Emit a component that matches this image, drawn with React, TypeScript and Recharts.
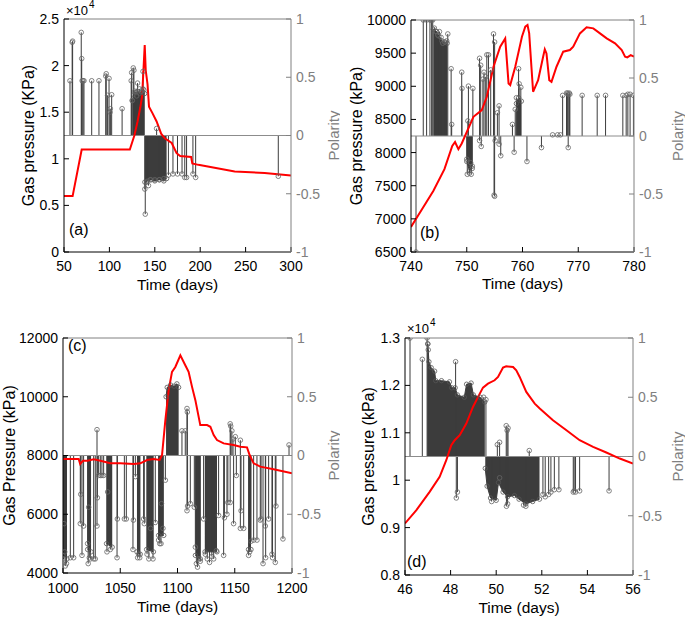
import React from 'react'
import { ComposedChart, Line, Bar, Area, Scatter, XAxis, YAxis, ReferenceLine } from 'recharts'

type Pair = [number, number]
type Env = [number, number | null]

const FONT = '"Liberation Sans", Arial, Helvetica, sans-serif'
const GREY = '#808080'
const STEM = '#3c3c3c'
const POLARITY_TICKS = [-1, -0.5, 0, 0.5, 1]

// ---- panel (a) ----
const timeTicksA = [50, 100, 150, 200, 250, 300]
const pressureTicksA = [0, 5000, 10000, 15000, 20000, 25000]
const pressureA: Pair[] = [
  [50, 6000], [59.5, 6000], [69.5, 11000], [122.5, 11000], [127.5, 12500], [131, 14000],
  [134, 15500], [136, 16700], [137.5, 19500], [138.9, 22200], [140, 19500], [142, 18000],
  [143.6, 15600], [147.4, 14900], [152, 14000], [157, 12700], [161, 12200], [168.6, 11700],
  [174, 10600], [178, 10300], [190, 10200], [191.3, 9500], [198, 9350], [238, 8650],
  [271, 8470], [300, 8220],
]
const stemsA: Pair[] = [
  [56.6, 0.47], [59, 0.8], [59.5, 0.81], [69, 0.885], [69.5, 0.66], [70, 0.47], [71, 0.47],
  [72, 0.47], [80.5, 0.47], [88.5, 0.47], [96, 0.51], [96.5, 0.53], [98, 0.345], [99.6, 0.49],
  [100.7, 0.2], [101, 0.23], [102.5, 0.35], [114, 0.23], [124, 0.47], [124.5, 0.54], [125, 0.3],
  [126.3, 0.58], [127, 0.56], [128, 0.38], [130, 0.34], [131, 0.45], [133, 0.4], [135, 0.38],
  [137, 0.55], [138, 0.39], [152, 0.06],
  [139, -0.46], [139.5, -0.675], [141, -0.4], [143, -0.43], [145, -0.38], [150, -0.38],
  [155, -0.38], [160, -0.37], [165, -0.34], [170, -0.33], [175, -0.33], [180, -0.33],
  [183, -0.36], [185, -0.36], [192, -0.33], [195, -0.36], [286, -0.35],
]
const denseA: Env[] = [
  [125.5, 0.3], [127, 0.35], [129, 0.37], [131, 0.38], [133, 0.36], [135, 0.37], [137, 0.4], [138.8, 0.36],
  [138.9, null],
  [139, -0.4], [142, -0.39], [146, -0.38], [150, -0.39], [155, -0.38], [160, -0.39], [163, -0.37],
]

// ---- panel (b) ----
const timeTicksB = [740, 750, 760, 770, 780]
const pressureTicksB = [6500, 7000, 7500, 8000, 8500, 9000, 9500, 10000]
const pressureB: Pair[] = [
  [740, 6878], [742, 7150], [744, 7420], [746, 7750], [747.4, 8100], [747.9, 8160], [748.5, 8051],
  [749.1, 8137], [751.2, 8540], [752.7, 8640], [753.6, 8842], [754.8, 9295], [756, 9597],
  [756.9, 9723], [757.5, 9043], [757.8, 9018], [758.7, 9295], [759.9, 9748], [760.5, 9900],
  [760.9, 9925], [761.2, 9798], [761.6, 9295], [761.9, 8917], [762.8, 9093], [763.7, 9446],
  [764, 9557], [764.3, 9496], [764.8, 9093], [765.2, 9068], [766.1, 9295], [767.3, 9522],
  [768.5, 9547], [769.1, 9597], [770.3, 9798], [771.5, 9889], [772.7, 9874], [773.9, 9798],
  [775.1, 9723], [776.6, 9647], [777.8, 9547], [778.4, 9446], [778.8, 9436], [779.4, 9471],
  [780, 9446],
]
const stemsB: Pair[] = [
  [742.2, 1], [742.8, 1], [743.4, 1], [743.7, 1], [743.9, 1], [744.2, 0.93], [744.5, 0.9],
  [744.8, 0.87], [745.1, 0.9], [745.4, 0.85], [745.7, 0.8], [746.1, 0.81], [746.4, 0.82],
  [746.6, 0.88], [747.2, 0.58], [747.3, 0.1], [749.1, 0.55], [749.15, 0.41], [750.2, 0.13],
  [750.3, 0.43], [751.1, 0.41], [752.3, 0.67], [752.5, 0.61], [752.9, 0.49], [753.1, 0.55],
  [753.4, 0.51], [753.6, 0.7], [753.9, 0.7], [754.3, 0.57], [754.8, 0.88], [755, 0.81],
  [755.5, 0.2], [755.8, 0.26], [758.2, 0.1], [758.7, 0.23], [758.9, 0.33], [759.3, 0.58],
  [759.4, 0.45], [759.7, 0.42], [765.4, 0.01], [766.3, 0.01], [766.8, 0.01], [767.2, 0.35],
  [767.9, 0.37], [768.1, 0.37], [768.2, 0.36], [768.4, 0.37], [768.5, 0.36], [770.7, 0.35],
  [773.4, 0.35], [774.9, 0.35], [778, 0.35], [778.6, 0.35], [778.9, 0.36], [779.3, 0.36],
  [779.9, 0.35],
  [740.9, -1], [750, -0.2], [750.1, -0.33], [750.5, -0.32], [750.7, -0.23], [750.8, -0.33],
  [751, -0.26], [752.3, -0.04], [752.6, -0.09], [754.9, -0.51], [755, -0.52], [755.1, -0.04],
  [755.8, -0.07], [756.1, -0.17], [758.5, -0.14], [760.8, -0.22], [763.4, -0.1], [768.2, -0.1],
]
const denseB: Env[] = [
  [744, 0.92], [744.6, 0.9], [745, 0.86], [745.5, 0.82], [746, 0.81], [746.5, 0.8],
  [747, null],
  [750, -0.22], [750.5, -0.3], [751, -0.28],
  [752, null],
  [758.9, 0.28], [759.3, 0.33], [759.8, 0.3],
]

// ---- panel (c) ----
const timeTicksC = [1000, 1050, 1100, 1150, 1200]
const pressureTicksC = [4000, 6000, 8000, 10000, 12000]
const pressureC: Pair[] = [
  [1000, 7881], [1013.7, 7881], [1015, 7711], [1017.5, 7824], [1021.5, 7824], [1026.8, 7870],
  [1032.6, 7824], [1041.3, 7734], [1050, 7734], [1061.7, 7711], [1067.5, 7734], [1073.4, 7847],
  [1079.2, 7881], [1084.4, 7850], [1086.5, 8017], [1089.4, 9205], [1092.3, 10223],
  [1095.2, 10846], [1098.1, 11015], [1102.5, 11411], [1106.8, 11072], [1109.7, 10846],
  [1112.7, 10336], [1115.6, 9884], [1119.9, 9035], [1125.8, 9035], [1128.7, 8979],
  [1131.6, 8696], [1134.5, 8526], [1140.3, 8413], [1149, 8356], [1154.9, 8300], [1160.7, 8277],
  [1163, 8017], [1166.5, 7734], [1172.3, 7621], [1183.9, 7530], [1200, 7395],
]
const stemsC: Pair[] = [
  [1000.5, -0.88], [1001, -0.58], [1001.5, -0.82], [1002, -0.94], [1003, -0.92], [1006.4, -0.87],
  [1009.3, -0.87], [1015.1, -0.58], [1015.5, -0.33], [1016.6, -0.85], [1018, -0.6], [1021.5, -0.75],
  [1022, -0.92], [1022.4, -0.44], [1023, -0.87], [1023.9, -0.88], [1026.8, -0.88], [1028.2, -0.88],
  [1029.7, -0.6], [1030, -0.36], [1031.1, -0.17], [1032.6, -0.17], [1034, -0.17], [1035.5, -0.17],
  [1038.4, -0.82], [1039, -0.31], [1041.3, -0.8], [1047.2, -0.87], [1047.5, -0.54], [1053.6, -0.54],
  [1055.3, -0.54], [1061.1, -0.8], [1061.5, -0.55], [1063.2, -0.18], [1065.2, -0.87], [1066, -0.84],
  [1067, -0.87], [1070.4, -0.54], [1071, -0.58], [1073.4, -0.84], [1075, -0.88], [1076.5, -0.62],
  [1078.6, -0.88], [1080.6, -0.57], [1083.5, -0.72], [1084.5, -0.75], [1085.6, -0.75], [1086, -0.41],
  [1087.3, -0.62], [1089.4, -0.21], [1108.3, -0.47], [1108.8, -0.43], [1111.2, -0.41],
  [1114.7, -0.44], [1115.6, -0.78], [1116.5, -0.92], [1117.5, -0.95], [1118.5, -0.88],
  [1119.9, -0.9], [1122.8, -0.54], [1124.3, -0.84], [1126, -0.88], [1128, -0.91], [1130, -0.86],
  [1131.6, -0.88], [1133.9, -0.81], [1135.9, -0.51], [1140.3, -0.85], [1141, -0.53], [1143.2, -0.5],
  [1144, -0.4], [1146, -0.4], [1149, -0.58], [1151.4, -0.17], [1154.9, -0.62], [1155.5, -0.47],
  [1157.8, -0.62], [1162.1, -0.85], [1163, -0.82], [1164.2, -0.73], [1166.5, -0.72], [1169.4, -0.72],
  [1172.3, -0.55], [1173, -0.54], [1174.7, -0.92], [1176.7, -0.6], [1177, -0.87], [1179.6, -0.54],
  [1182.5, -0.84], [1183, -0.87], [1185.4, -0.91], [1186, -0.43], [1192.1, -0.71],
  [1029.7, 0.22], [1103.9, 0.21], [1106.8, 0.21], [1108.3, 0.4], [1108.6, 0.37], [1146, 0.27],
  [1146.5, 0.25], [1147.5, 0.21], [1148.5, 0.14], [1150.5, 0.16], [1154.9, 0.13], [1197.4, 0.09],
]
const denseC: Env[] = [
  [1000, -0.85], [1003.5, -0.88], [1004, null],
  [1021.5, -0.8], [1024.5, -0.82], [1025, null],
  [1038, -0.75], [1043, -0.78], [1044, null],
  [1064.6, -0.82], [1067.5, -0.84], [1068, null],
  [1073, -0.8], [1079, -0.82], [1080, null],
  [1083.5, -0.68], [1088, -0.68], [1089, null],
  [1090, 0.5], [1091, 0.58], [1094, 0.6], [1097, 0.59], [1099.5, 0.61], [1101, 0.58], [1102, null],
  [1115.6, -0.85], [1120, -0.88], [1121, null],
  [1124, -0.82], [1134.5, -0.82], [1135, null],
  [1162, -0.8], [1164.2, -0.8],
]

// ---- panel (d) ----
const timeTicksD = [46, 48, 50, 52, 54, 56]
const pressureTicksD = [8000, 9000, 10000, 11000, 12000, 13000]
const pressureD: Pair[] = [
  [46, 9088], [46.5, 9369], [47.08, 9755], [47.52, 10071], [47.81, 10422], [48.03, 10738],
  [48.18, 10843], [48.4, 10949], [48.69, 11195], [48.98, 11546], [49.28, 11827], [49.42, 11953],
  [49.64, 12037], [49.93, 12108], [50.08, 12178], [50.3, 12375], [50.44, 12403], [50.74, 12389],
  [50.88, 12318], [51.03, 12178], [51.32, 11862], [51.69, 11616], [51.91, 11511], [52.49, 11265],
  [53.08, 11054], [53.66, 10843], [54.25, 10703], [54.83, 10584], [55.42, 10457], [56, 10352],
]
const stemsD: Pair[] = [
  [46.22, 1], [46.76, 0.82], [46.97, 1], [47, 0.95], [47.02, 0.9], [48.22, 0.8], [49.45, 0.5],
  [49.55, 0.48], [50.05, 0.1], [50.15, 0.12], [50.44, 0.26], [50.48, 0.22], [50.52, 0.24],
  [51.45, 0.05],
  [48.25, -0.35], [48.3, -0.3], [49.8, -0.38], [50.15, -0.18], [50.45, -0.42], [50.5, -0.4],
  [51.2, -0.41], [51.3, -0.42], [52.05, -0.32], [52.15, -0.34], [52.3, -0.32], [52.4, -0.3],
  [52.55, -0.28], [52.75, -0.28], [53.38, -0.3], [53.42, -0.29], [53.48, -0.3], [53.66, -0.29],
  [54.95, -0.29],
]
const denseD: Env[] = [
  [47, 0.95], [47.05, 0.8], [47.15, 0.75], [47.3, 0.72], [47.35, 0.64], [47.6, 0.64],
  [47.95, 0.63], [48.05, 0.58], [48.2, 0.58], [48.3, 0.52], [48.6, 0.5], [48.7, 0.61],
  [48.9, 0.62], [49, 0.52], [49.3, 0.5], [49.5, 0.46],
  [49.51, null],
  [49.52, -0.1], [49.6, -0.25], [49.75, -0.35], [50, -0.37], [50.1, -0.22], [50.3, -0.3],
  [50.5, -0.34], [50.8, -0.33], [51, -0.36], [51.3, -0.4], [51.6, -0.38], [51.9, -0.36],
]

const AxisTitle = (props: any) => {
  const { viewBox, text, dx, color, size } = props
  const x = viewBox.x + dx
  const y = viewBox.y + viewBox.height / 2
  return (
    <text x={x} y={y} transform={`rotate(-90 ${x} ${y})`} textAnchor="middle"
      dominantBaseline="central" fill={color} fontSize={size} fontFamily={FONT}>
      {text}
    </text>
  )
}

const Ring = (p: any) => (
  <circle cx={p.cx} cy={p.cy} r={2.3} fill="none" stroke="#666" strokeWidth={0.8} />
)

// one stem: a thin vertical line from the baseline to the value
const StemLine = (p: any) => {
  const cx = p.x + p.width / 2
  return <line x1={cx} x2={cx} y1={p.y} y2={p.y + p.height} stroke={STEM} strokeWidth={1} />
}

type PanelProps = {
  left: number; top: number; width: number; height: number
  plotTop: number; leftW: number; rightW: number; xH: number
  xDomain: [number, number]; xTicks: number[]; xTickMargin: number; xTitleOffset: number
  yDomain: [number, number]; yTicks: number[]; yFmt?: (v: number) => string
  yTitle: string; yTitleDx: number; rTitleDx: number
  pressure: Pair[]; stems: Pair[]; dense: Env[]
}

function Panel(props: PanelProps) {
  const { left, top, width, height, plotTop, leftW, rightW, xH, xDomain, xTicks, xTickMargin,
    xTitleOffset, yDomain, yTicks, yFmt, yTitle, yTitleDx, rTitleDx, pressure, stems, dense } = props
  const stemData = stems.map(([t, v]) => ({ t, v }))
  const lineData = pressure.map(([t, p]) => ({ t, p }))
  const denseData = dense.map(([t, e]) => ({ t, e }))
  const tickFont = { fontSize: 14, fontFamily: FONT }
  return (
    <div style={{ position: 'absolute', left, top, width, height }}>
      <ComposedChart width={width} height={height} data={stemData}
        margin={{ top: plotTop, right: 0, bottom: 0, left: 0 }}>
        <XAxis dataKey="t" type="number" domain={xDomain} ticks={xTicks} allowDataOverflow interval={0}
          height={xH} tickSize={-5} tickMargin={xTickMargin} stroke="#000"
          tick={{ ...tickFont, fill: '#000' }}
          label={{ value: 'Time (days)', position: 'insideBottom', offset: xTitleOffset, fill: '#000', fontSize: 15.5, fontFamily: FONT }} />
        <XAxis xAxisId="top" orientation="top" type="number" domain={xDomain} ticks={xTicks}
          allowDataOverflow interval={0} height={0} tick={false} tickSize={-5} stroke={GREY} />
        <YAxis yAxisId="l" orientation="left" type="number" domain={yDomain} ticks={yTicks}
          allowDataOverflow interval={0} width={leftW} tickSize={-5} tickMargin={10} stroke="#000"
          tickFormatter={yFmt} tick={{ ...tickFont, fill: '#000' }}
          label={<AxisTitle text={yTitle} dx={yTitleDx} color="#000" size={16} />} />
        <YAxis yAxisId="r" orientation="right" type="number" domain={[-1, 1]} ticks={POLARITY_TICKS}
          allowDataOverflow interval={0} width={rightW} tickSize={-5} tickMargin={10} stroke={GREY}
          tick={{ ...tickFont, fill: GREY }}
          label={<AxisTitle text="Polarity" dx={rTitleDx} color={GREY} size={15} />} />
        <ReferenceLine yAxisId="r" y={1} stroke={GREY} />
        <Area yAxisId="r" data={denseData} dataKey="e" type="linear" stroke={STEM} strokeWidth={1}
          fill={STEM} fillOpacity={1} connectNulls={false} isAnimationActive={false}
          dot={{ r: 2.2, fill: 'none', stroke: '#555', strokeWidth: 0.8 }} />
        <Bar yAxisId="r" dataKey="v" barSize={1} shape={StemLine} isAnimationActive={false} />
        <ReferenceLine yAxisId="r" y={0} stroke="#8c8c8c" />
        <Scatter yAxisId="r" dataKey="v" shape={Ring} isAnimationActive={false} />
        <Line yAxisId="l" data={lineData} dataKey="p" type="linear" stroke="#ff0000" strokeWidth={2}
          dot={false} isAnimationActive={false} />
      </ComposedChart>
    </div>
  )
}

const tenThousands = (v: number) => String(v / 10000)

export default function App() {
  return (
    <div style={{ position: 'absolute', left: 0, top: 0, width: 685, height: 619, background: '#fff', fontFamily: FONT }}>
      <Panel left={0} top={0} width={340} height={300} plotTop={19} leftW={64} rightW={49} xH={48}
        xDomain={[50, 300]} xTicks={timeTicksA} xTickMargin={14} xTitleOffset={10}
        yDomain={[0, 25000]} yTicks={pressureTicksA} yFmt={tenThousands}
        yTitle="Gas pressure (KPa)" yTitleDx={28} rTitleDx={42}
        pressure={pressureA} stems={stemsA} dense={denseA} />
      <Panel left={345} top={0} width={340} height={300} plotTop={20} leftW={66} rightW={51} xH={48}
        xDomain={[740, 780]} xTicks={timeTicksB} xTickMargin={14} xTitleOffset={11}
        yDomain={[6500, 10000]} yTicks={pressureTicksB}
        yTitle="Gas pressure (kPa)" yTitleDx={11} rTitleDx={43}
        pressure={pressureB} stems={stemsB} dense={denseB} />
      <Panel left={0} top={310} width={340} height={309} plotTop={28} leftW={63} rightW={48} xH={46}
        xDomain={[1000, 1200]} xTicks={timeTicksC} xTickMargin={15} xTitleOffset={7}
        yDomain={[4000, 12000]} yTicks={pressureTicksC}
        yTitle="Gas Pressure (kPa)" yTitleDx={9} rTitleDx={41}
        pressure={pressureC} stems={stemsC} dense={denseC} />
      <Panel left={345} top={310} width={340} height={309} plotTop={28} leftW={60} rightW={52} xH={44}
        xDomain={[46, 56]} xTicks={timeTicksD} xTickMargin={14} xTitleOffset={6}
        yDomain={[8000, 13000]} yTicks={pressureTicksD} yFmt={tenThousands}
        yTitle="Gas pressure (kPa)" yTitleDx={23} rTitleDx={44}
        pressure={pressureD} stems={stemsD} dense={denseD} />
      <svg width={685} height={619} style={{ position: 'absolute', left: 0, top: 0, pointerEvents: 'none' }}
        fontFamily={FONT} fill="#000">
        <text x={66} y={15} fontSize={13}>×10</text>
        <text x={89} y={8} fontSize={10}>4</text>
        <text x={407} y={333} fontSize={13}>×10</text>
        <text x={430} y={326} fontSize={10}>4</text>
        <text x={69} y={235} fontSize={16}>(a)</text>
        <text x={420} y={238} fontSize={16}>(b)</text>
        <text x={68} y={351} fontSize={16}>(c)</text>
        <text x={407} y={567} fontSize={16}>(d)</text>
      </svg>
    </div>
  )
}
